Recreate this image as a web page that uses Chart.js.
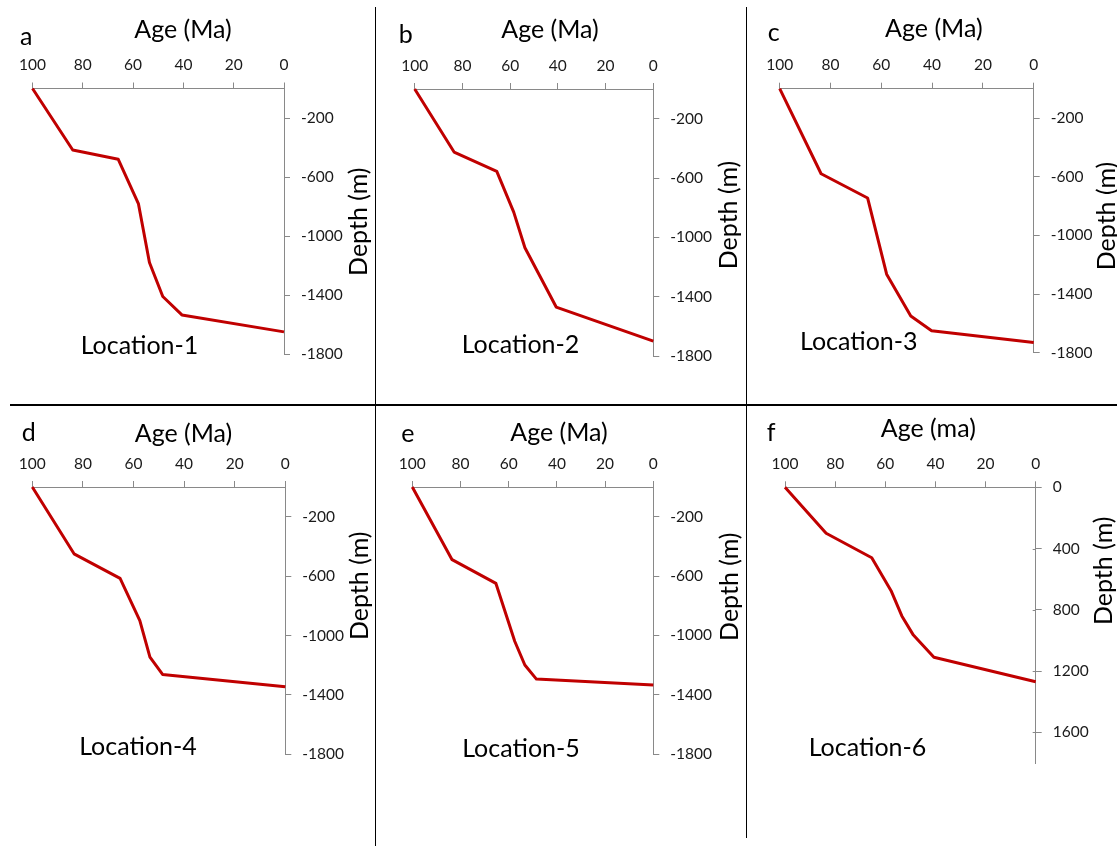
<!DOCTYPE html>
<html>
<head>
<meta charset="utf-8">
<title>Burial history, Locations 1-6</title>
<script src="https://cdn.jsdelivr.net/npm/chart.js@4.4.1/dist/chart.umd.min.js"></script>
<style>
  html, body { margin: 0; padding: 0; background: #fff; }
  #page { position: relative; width: 1117px; height: 846px; overflow: hidden; }
  #page canvas { position: absolute; }
  .rule { position: absolute; background: #000; }
</style>
</head>
<body>
<div id="page">
  <div class="rule" style="left:10px;top:404px;width:1107px;height:1.5px"></div>
  <div class="rule" style="left:374.5px;top:7px;width:1.5px;height:839px"></div>
  <div class="rule" style="left:745.5px;top:7px;width:1.5px;height:831px"></div>
</div>
<script>
// age (Ma) vs depth (m) for each location
const ages1 = [100, 84, 65.9, 57.9, 53.5, 48.2, 40.6, 0];
const depths1 = [0, -417, -480, -780, -1180, -1410, -1535, -1650];

const ages2 = [100, 83.5, 65.6, 58.5, 53.8, 40.7, 0];
const depths2 = [0, -425, -555, -830, -1070, -1470, -1700];

const ages3 = [100, 83.7, 65.4, 57.9, 48.4, 40.2, 0];
const depths3 = [0, -580, -745, -1265, -1550, -1650, -1730];

const ages4 = [100, 83.5, 65.3, 57.5, 53.5, 48.5, 0];
const depths4 = [0, -450, -615, -900, -1145, -1262, -1345];

const ages5 = [100, 83.5, 65.3, 57.5, 53.3, 48.5, 0];
const depths5 = [0, -490, -650, -1040, -1200, -1295, -1335];

const ages6 = [100, 83.6, 65.4, 57.7, 53.4, 48.8, 40.6, 0];
const depths6 = [0, 300, 460, 675, 840, 965, 1110, 1270];

const ageTickStep = 20;
const negDepthTicks = [-1800, -1400, -1000, -600, -200];
const posDepthTicks = [0, 400, 800, 1200, 1600];

const FONT = 'Lato, "Open Sans", sans-serif';
const AXIS_GRAY = '#898989';
const TEXT_COLOR = '#000';
const TICK_COLOR = '#1a1a1a';
const LINE_RED = '#c00000';
const TOP_AXIS_H = 95;
const RIGHT_AXIS_W = 60;

// plot area [left, top, right, bottom] on the page and where each label sits
const panels = [
  { letter: 'a', ages: ages1, depths: depths1, ticks: negDepthTicks, yMin: -1800, yMax: 0, reverse: false,
    area: [32.5, 88.5, 284, 354], letterAt: [20, 45], xTitle: 'Age (Ma)', xTitleAt: [183, 37.5],
    yTitleAt: [366.5, 221.7], location: 'Location-1', locationAt: [139.5, 354] },
  { letter: 'b', ages: ages2, depths: depths2, ticks: negDepthTicks, yMin: -1800, yMax: 0, reverse: false,
    area: [414.7, 89, 653.3, 356], letterAt: [398.7, 42.7], xTitle: 'Age (Ma)', xTitleAt: [550, 37.5],
    yTitleAt: [737.3, 215], location: 'Location-2', locationAt: [520.5, 353.3] },
  { letter: 'c', ages: ages3, depths: depths3, ticks: negDepthTicks, yMin: -1800, yMax: 0, reverse: false,
    area: [779.7, 88.7, 1033.7, 352.7], letterAt: [767.7, 41], xTitle: 'Age (Ma)', xTitleAt: [933.8, 37.3],
    yTitleAt: [1115, 216], location: 'Location-3', locationAt: [858.8, 350] },
  { letter: 'd', ages: ages4, depths: depths4, ticks: negDepthTicks, yMin: -1800, yMax: 0, reverse: false,
    area: [32.3, 487, 285.3, 754.3], letterAt: [21.7, 441], xTitle: 'Age (Ma)', xTitleAt: [183.5, 441.7],
    yTitleAt: [368.3, 585.8], location: 'Location-4', locationAt: [138, 755] },
  { letter: 'e', ages: ages5, depths: depths5, ticks: negDepthTicks, yMin: -1800, yMax: 0, reverse: false,
    area: [412.3, 487, 653.3, 754], letterAt: [401.3, 441.7], xTitle: 'Age (Ma)', xTitleAt: [559, 440.7],
    yTitleAt: [738, 586.7], location: 'Location-5', locationAt: [521, 756.7] },
  { letter: 'f', ages: ages6, depths: depths6, ticks: posDepthTicks, yMin: 0, yMax: 1800, reverse: true,
    area: [785, 487.3, 1035.7, 763], letterAt: [766.7, 440.7], xTitle: 'Age (ma)', xTitleAt: [928.3, 436.7],
    yTitleAt: [1111.7, 570.8], location: 'Location-6', locationAt: [867.5, 756], crossTicks: true }
];

// panel letter, axis titles and location name, placed in page coordinates
const panelText = {
  id: 'panelText',
  afterDraw(chart, args, opts) {
    const ctx = chart.ctx;
    const ox = opts.ox, oy = opts.oy;
    ctx.save();
    ctx.fillStyle = TEXT_COLOR;
    ctx.textBaseline = 'alphabetic';
    ctx.font = '25px ' + FONT;
    ctx.textAlign = 'left';
    ctx.fillText(opts.letter, opts.letterAt[0] - ox, opts.letterAt[1] - oy);
    ctx.textAlign = 'center';
    ctx.fillText(opts.xTitle, opts.xTitleAt[0] - ox, opts.xTitleAt[1] - oy);
    ctx.fillText(opts.location, opts.locationAt[0] - ox, opts.locationAt[1] - oy);
    ctx.save();
    ctx.translate(opts.yTitleAt[0] - ox, opts.yTitleAt[1] - oy);
    ctx.rotate(-Math.PI / 2);
    ctx.fillText('Depth (m)', 0, 0);
    ctx.restore();

    // short inner stubs where the depth ticks cross the axis
    if (opts.crossTicks) {
      const y = chart.scales.y;
      ctx.strokeStyle = AXIS_GRAY;
      ctx.lineWidth = 1;
      y.ticks.forEach(t => {
        const py = Math.round(y.getPixelForValue(t.value)) + 0.5;
        ctx.beginPath();
        ctx.moveTo(chart.chartArea.right - 3, py);
        ctx.lineTo(chart.chartArea.right, py);
        ctx.stroke();
      });
    }
    ctx.restore();
  }
};

const page = document.getElementById('page');

panels.forEach(p => {
  const [l, t, r, b] = p.area;
  const cx = Math.floor(l) - 45;
  const cy = Math.floor(t) - TOP_AXIS_H;
  const w = Math.ceil(r - cx) + 95;
  const h = Math.ceil(b - cy) + 30;

  const canvas = document.createElement('canvas');
  canvas.width = w;
  canvas.height = h;
  canvas.style.left = cx + 'px';
  canvas.style.top = cy + 'px';
  canvas.style.width = w + 'px';
  canvas.style.height = h + 'px';
  page.appendChild(canvas);

  const topH = t - cy;

  new Chart(canvas, {
    type: 'scatter',
    data: {
      datasets: [{
        data: p.ages.map((a, i) => ({ x: a, y: p.depths[i] })),
        showLine: true,
        borderColor: LINE_RED,
        borderWidth: 3,
        borderJoinStyle: 'round',
        pointRadius: 0,
        pointHoverRadius: 0,
        clip: false
      }]
    },
    options: {
      responsive: false,
      animation: false,
      devicePixelRatio: 1,
      events: [],
      layout: {
        padding: {
          left: l - cx,
          top: 0,
          right: w - (r - cx) - RIGHT_AXIS_W,
          bottom: h - (b - cy)
        }
      },
      plugins: {
        legend: { display: false },
        tooltip: { enabled: false },
        panelText: {
          ox: cx, oy: cy,
          letter: p.letter, letterAt: p.letterAt,
          xTitle: p.xTitle, xTitleAt: p.xTitleAt,
          yTitleAt: p.yTitleAt,
          location: p.location, locationAt: p.locationAt,
          crossTicks: !!p.crossTicks
        }
      },
      scales: {
        x: {
          type: 'linear',
          position: 'top',
          min: 0,
          max: 100,
          reverse: true,
          ticks: {
            stepSize: ageTickStep,
            padding: 8,
            color: TICK_COLOR,
            font: { family: FONT, size: 15.5 },
            maxRotation: 0,
            callback: v => String(v)
          },
          grid: { drawOnChartArea: false, drawTicks: true, tickLength: 6, color: AXIS_GRAY },
          border: { display: true, color: AXIS_GRAY, width: 1 },
          afterFit: s => { s.height = topH; }
        },
        y: {
          type: 'linear',
          position: 'right',
          min: p.yMin,
          max: p.yMax,
          reverse: p.reverse,
          afterBuildTicks: s => { s.ticks = p.ticks.map(v => ({ value: v })); },
          ticks: {
            padding: 11,
            color: TICK_COLOR,
            font: { family: FONT, size: 15.5 },
            callback: v => String(v)
          },
          grid: { drawOnChartArea: false, drawTicks: true, tickLength: 6, color: AXIS_GRAY },
          border: { display: true, color: AXIS_GRAY, width: 1 },
          afterFit: s => { s.width = RIGHT_AXIS_W; }
        }
      }
    },
    plugins: [panelText]
  });
});
</script>
</body>
</html>
